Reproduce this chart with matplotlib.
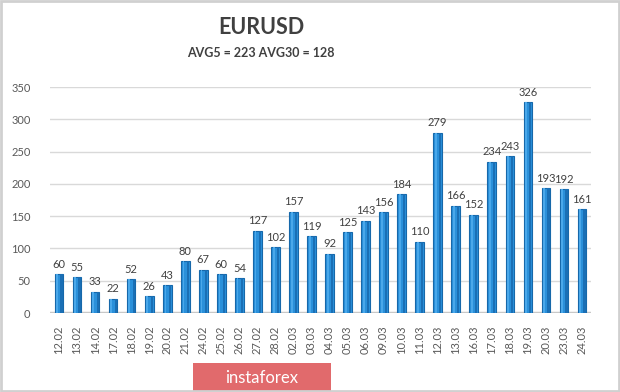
import matplotlib
matplotlib.use("Agg")
import matplotlib.pyplot as plt
from matplotlib.patches import Rectangle

dates = ["12.02","13.02","14.02","17.02","18.02","19.02","20.02","21.02","24.02","25.02",
         "26.02","27.02","28.02","02.03","03.03","04.03","05.03","06.03","09.03","10.03",
         "11.03","12.03","13.03","16.03","17.03","18.03","19.03","20.03","23.03","24.03"]
values = [60,55,33,22,52,26,43,80,67,60,54,127,102,157,119,92,125,143,156,184,
          110,279,166,152,234,243,326,193,192,161]
yticks = [0,50,100,150,200,250,300,350]
title = "EURUSD"
subtitle = "AVG5 = 223 AVG30 = 128"
brand = "instaforex"

plt.rcParams['font.family'] = ['Lato', 'DejaVu Sans']

fig = plt.figure(figsize=(6.2, 3.92), dpi=100)
fig.patch.set_facecolor('white')
ax = fig.add_axes([50/620, 1-313/392, 541/620, 226/392])

x = list(range(len(values)))
ax.set_axisbelow(True)
ax.yaxis.grid(True, color='#d9d9d9', linewidth=1.0)
ax.bar(x, values, width=0.48, color='#2a90da', edgecolor='#1668aa', linewidth=0.8, zorder=3)
# darker right side and highlight for 3D look
ax.bar([i + 0.14 for i in x], values, width=0.12, color='#1a6fb5', linewidth=0, zorder=4)
ax.bar([i - 0.1 for i in x], values, width=0.1, color='#4aa8ea', linewidth=0, zorder=4)
for i, v in zip(x, values):
    ax.text(i, v + 7, str(v), ha='center', va='bottom', fontsize=8, color='#404040', zorder=5, clip_on=False)

ax.set_xlim(-0.5, len(values) - 0.5)
ax.set_ylim(0, 350)
ax.set_yticks(yticks)
ax.set_yticklabels([str(t) for t in yticks], fontsize=8, color='#595959')
ax.set_xticks(x)
ax.set_xticklabels(dates, rotation=90, fontsize=8, color='#595959')
ax.tick_params(axis='x', length=0, pad=9)
ax.tick_params(axis='y', length=0, pad=14)
for s in ax.spines.values():
    s.set_visible(False)
ax.axhline(0, color='#c8c8c8', linewidth=2.5, zorder=2)

fig.text(261/620, 1-27/392, title, ha='center', va='center', fontsize=15.5, fontweight='bold', color='#404040')
fig.text(261/620, 1-53/392, subtitle, ha='center', va='center', fontsize=9, fontweight='bold', color='#404040')

# brand box
fig.patches.append(Rectangle((193/620, 0), 138/620, 29/392, transform=fig.transFigure,
                             facecolor='#e16a6c', edgecolor='none'))
fig.text(262/620, 14/392, brand, ha='center', va='center', fontsize=12, color='white')

# outer frame
fig.patches.append(Rectangle((0.002, 0.003), 0.996, 0.994, transform=fig.transFigure,
                             facecolor='none', edgecolor='#d0d0d0', linewidth=2))

fig.savefig("out.png", dpi=100, facecolor='white')
